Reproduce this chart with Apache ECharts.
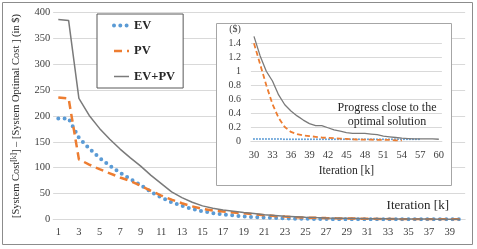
<!DOCTYPE html>
<html><head><meta charset="utf-8">
<script src="https://cdn.jsdelivr.net/npm/echarts@6/dist/echarts.min.js"></script>
<style>html,body{margin:0;padding:0;background:#fff}#c{width:477px;height:249px}</style>
</head><body><div id="c"></div>
<script>
// Iterations k = 1..60
const iterations = ['1','2','3','4','5','6','7','8','9','10','11','12','13','14','15','16','17','18','19','20',
  '21','22','23','24','25','26','27','28','29','30','31','32','33','34','35','36','37','38','39','40',
  '41','42','43','44','45','46','47','48','49','50','51','52','53','54','55','56','57','58','59','60'];
// [System Cost^k] - [System Optimal Cost] ($)
const evCost = [195,195,158,137,119,104,90,78,66,53,42,33,26,20,15.5,12,9.5,7.5,5.5,4.2,
  3.2,2.4,1.8,1.3,0.9,0.6,0.4,0.25,0.12,0.03,0.03,0.03,0.03,0.03,0.025,0.025,0.025,0.025,0.025,0.025,
  0.025,0.025,0.025,0.025,0.025,0.025,0.025,0.025,0.025,0.025,0.025,0.025,0.025,0.025,0.025,0.025,0.025];
const pvCost = [236,234,116,106,97,89,81,74,65,55,46,38,31,25,20,17,15,13,11.5,10,
  8,6.5,5.2,4.2,3.4,2.8,2.3,1.9,1.6,1.4,1.1,0.8,0.53,0.33,0.2,0.13,0.1,0.08,0.07,0.06,
  0.05,0.045,0.04,0.035,0.03,0.025,0.02,0.02,0.02,0.015,0.015,0.015,0.01,0.01];
const evpvCost = [387,385,234,201,176,155,136,119,103,85,69,53,42,33,26,21.5,18,15.5,13,11,
  9,7.5,6,5,4,3.3,2.7,2.2,1.8,1.5,1.22,1.0,0.86,0.66,0.52,0.43,0.36,0.3,0.25,0.22,
  0.22,0.19,0.16,0.14,0.12,0.11,0.11,0.11,0.1,0.09,0.07,0.06,0.05,0.04,0.035,0.03,0.03,0.03,0.03,0.025];
const mainRange = [1, 40];   // iterations shown in main chart
const insetRange = [30, 60]; // iterations shown in inset
const seriesNames = ['EV','PV','EV+PV'];

const FONT = "'Liberation Serif', 'DejaVu Serif', serif";
const COL = { ev:'#5B9BD5', pv:'#ED7D31', both:'#7A7A7A', grid:'#D9D9D9', tick:'#404040', text:'#262626' };
const LINE = {
  ev:{color:COL.ev, width:4, type:[0,6.3], cap:'round'},
  pv:{color:COL.pv, width:2.5, type:[8,5]},
  both:{color:COL.both, width:1.5}
};

const mainCats = iterations.slice(mainRange[0]-1, mainRange[1]);
const insetCats = iterations.slice(insetRange[0]-1, insetRange[1]);
const mainSlice = a => a.slice(mainRange[0]-1, mainRange[1]);
const insetSlice = a => a.slice(insetRange[0]-1, insetRange[1]);
const hidden = {opacity:0, color:'transparent', borderColor:'transparent', borderWidth:0};

const chart = echarts.init(document.getElementById('c'), null, {renderer:'canvas'});
const option = {
  animation:false,
  backgroundColor:'#fff',
  graphic:[
    {type:'rect', z:0, silent:true, shape:{x:2.5,y:2.5,width:470,height:242}, style:{fill:'none', stroke:'#8C8C8C', lineWidth:1}},
    {type:'rect', z:5, silent:true, shape:{x:216.5,y:23.5,width:235,height:162}, style:{fill:'#fff', stroke:'#A6A6A6', lineWidth:1}}
  ],
  title:[
    {text:'Iteration [k]', right:28, top:199, padding:0, z:8,
     textStyle:{fontFamily:FONT, fontSize:13, fontWeight:'normal', color:COL.text}},
    {text:'Progress close to the\noptimal solution', left:387, top:101, textAlign:'center', padding:0, z:8,
     textStyle:{fontFamily:FONT, fontSize:12, fontWeight:'normal', lineHeight:14, color:COL.text}}
  ],
  legend:{
    data:[
      {name:seriesNames[0], itemStyle:hidden, lineStyle:LINE.ev},
      {name:seriesNames[1], itemStyle:hidden, lineStyle:LINE.pv},
      {name:seriesNames[2], itemStyle:hidden, lineStyle:LINE.both}
    ],
    orient:'vertical', left:97, top:14,
    padding:[5,8,5,15], itemWidth:15, itemHeight:14, itemGap:12.5,
    backgroundColor:'#fff', borderColor:'#595959', borderWidth:1, selectedMode:false,
    textStyle:{fontFamily:FONT, fontSize:12.5, fontWeight:'bold', color:COL.text}
  },
  grid:[
    {left:53.15, right:11.85, top:12.7, bottom:29.7},
    {left:250.9, right:35.1, top:29.4, bottom:108}
  ],
  xAxis:[
    {type:'category', gridIndex:0, data:mainCats, boundaryGap:true,
     axisLine:{lineStyle:{color:COL.grid}}, axisTick:{show:false},
     axisLabel:{interval:1, fontFamily:FONT, fontSize:10.5, color:COL.tick, margin:7}},
    {type:'category', gridIndex:1, data:insetCats, boundaryGap:true, z:6,
     axisLine:{lineStyle:{color:COL.grid}}, axisTick:{show:false},
     axisLabel:{interval:2, fontFamily:FONT, fontSize:10.5, color:COL.tick, margin:9},
     name:'Iteration [k]', nameLocation:'middle', nameGap:24,
     nameTextStyle:{fontFamily:FONT, fontSize:11.5, color:COL.text}}
  ],
  yAxis:[
    {type:'value', gridIndex:0, min:0, max:400, interval:50,
     axisLine:{show:false}, axisTick:{show:false},
     axisLabel:{fontFamily:FONT, fontSize:10.5, color:COL.tick, margin:3},
     splitLine:{lineStyle:{color:COL.grid, width:1}},
     name:'[System Cost{sup|[k]}] – [System Optimal Cost ] (in $)', nameLocation:'middle', nameGap:31, nameRotate:90,
     nameTextStyle:{fontFamily:FONT, fontSize:10.5, color:COL.text,
       rich:{sup:{fontFamily:FONT, fontSize:7.5, color:COL.text, verticalAlign:'top', padding:[0,0,4,0]}}}},
    {type:'value', gridIndex:1, min:0, max:1.6, interval:0.2, z:6,
     axisLine:{show:false}, axisTick:{show:false},
     axisLabel:{fontFamily:FONT, fontSize:10, color:COL.tick, margin:10,
       formatter:v => Math.abs(v-1.6) < 1e-9 ? '($)' : String(+v.toFixed(1))},
     splitLine:{showMaxLine:false, lineStyle:{color:COL.grid, width:1}}}
  ],
  series:[
    {type:'line', name:'EV', xAxisIndex:0, yAxisIndex:0, data:mainSlice(evCost), symbol:'none', z:3,
     itemStyle:{color:COL.ev}, lineStyle:LINE.ev},
    {type:'line', name:'PV', xAxisIndex:0, yAxisIndex:0, data:mainSlice(pvCost), symbol:'none', z:3,
     itemStyle:{color:COL.pv}, lineStyle:LINE.pv},
    {type:'line', name:'EV+PV', xAxisIndex:0, yAxisIndex:0, data:mainSlice(evpvCost), symbol:'none', z:3,
     itemStyle:{color:COL.both}, lineStyle:LINE.both},
    {type:'line', name:'EV inset', xAxisIndex:1, yAxisIndex:1, data:insetSlice(evCost), symbol:'none', z:7,
     lineStyle:{color:COL.ev, width:2, type:[0,3], cap:'round'}},
    {type:'line', name:'PV inset', xAxisIndex:1, yAxisIndex:1, data:insetSlice(pvCost), symbol:'none', z:7,
     lineStyle:{color:COL.pv, width:1.8, type:[5,3]}},
    {type:'line', name:'EV+PV inset', xAxisIndex:1, yAxisIndex:1, data:insetSlice(evpvCost), symbol:'none', z:7,
     lineStyle:{color:COL.both, width:1.3}}
  ]
};
chart.setOption(option);
</script>
</body></html>
